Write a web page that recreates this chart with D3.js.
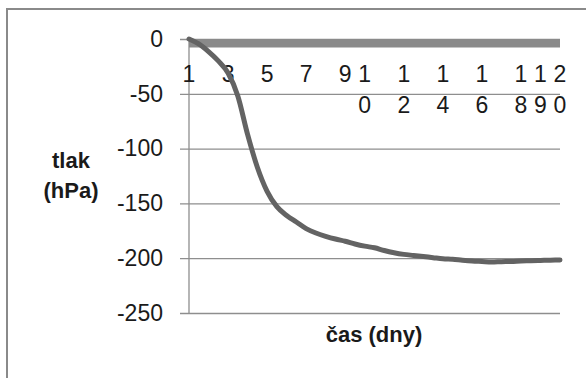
<!DOCTYPE html>
<html>
<head>
<meta charset="utf-8">
<script src="https://cdn.jsdelivr.net/npm/d3@7"></script>
<style>
  html, body { margin: 0; padding: 0; background: #fff; }
  svg { display: block; }
  text { font-family: "Liberation Sans", Arial, sans-serif; fill: #1a1a1a; }
</style>
</head>
<body>
<svg id="chart" width="586" height="378"></svg>
<script>
// Pressure measured over time (days), sampled every half day
const days = [1, 1.5, 2, 2.5, 3, 3.5, 4, 4.5, 5, 5.5, 6, 6.5, 7, 7.5, 8, 8.5, 9, 9.5, 10, 10.5,
              11, 11.5, 12, 12.5, 13, 13.5, 14, 14.5, 15, 15.5, 16, 16.5, 17, 17.5, 18, 18.5, 19, 19.5, 20];
const pressure = [0, -4.5, -11.5, -20, -31, -52, -87, -117, -139, -153, -161, -167, -173, -177, -180, -182.5,
                  -184.5, -187, -189, -190.5, -193, -195, -196.5, -197.5, -198.5, -199.5, -200.5, -201,
                  -201.8, -202.5, -203, -203.5, -203.2, -203, -202.6, -202.3, -202, -201.8, -201.6];
const xTicks = [1, 3, 5, 7, 9, 10, 12, 14, 16, 18, 19, 20];
const yTicks = [0, -50, -100, -150, -200, -250];
const yTitle = ["tlak", "(hPa)"];
const xTitle = "čas (dny)";

const svg = d3.select("#chart");
const grid = "#8e8e8e";

// chart frame
svg.append("rect")
  .attr("x", 7).attr("y", 9).attr("width", 620).attr("height", 420)
  .attr("fill", "none").attr("stroke", "#8a8a8a").attr("stroke-width", 2);

const x = d3.scaleLinear().domain([1, 20]).range([189, 560]);
const y = d3.scaleLinear().domain([-250, 0]).range([313, 39]);

// horizontal gridlines with outside tick marks
const yAxis = d3.axisLeft(y).tickValues(yTicks)
  .tickSize(-(x(20) - x(1))).tickSizeOuter(0).tickPadding(26);
const gy = svg.append("g").attr("transform", `translate(${x(1)},0)`).call(yAxis);
gy.select(".domain").remove();
gy.selectAll(".tick line").attr("stroke", grid).attr("stroke-width", 1.3).attr("x1", -9);
gy.selectAll(".tick text")
  .style("font-size", "23px").attr("fill", "#1a1a1a")
  .text(d => d === 0 ? "0" : "-" + Math.abs(d));

// vertical axis line
svg.append("line")
  .attr("x1", x(1)).attr("x2", x(1)).attr("y1", y(0)).attr("y2", y(-250))
  .attr("stroke", grid).attr("stroke-width", 1.3);

// heavy horizontal axis line just under zero
svg.append("rect")
  .attr("x", x(1)).attr("y", y(0)).attr("width", x(20) - x(1)).attr("height", 8.5)
  .attr("fill", "#8a8a8a");

// category labels, multi-digit numbers stacked one digit per line
const gx = svg.append("g");
xTicks.forEach(t => {
  const txt = gx.append("text")
    .attr("x", x(t)).attr("y", 82)
    .attr("text-anchor", "middle")
    .style("font-size", "23px");
  String(t).split("").forEach((ch, i) => {
    txt.append("tspan").attr("x", x(t)).attr("dy", i === 0 ? 0 : 31).text(ch);
  });
});

// pressure curve
const line = d3.line()
  .x((d, i) => x(days[i]))
  .y(d => y(d))
  .curve(d3.curveMonotoneX);
svg.append("path")
  .datum(pressure)
  .attr("d", line)
  .attr("fill", "none")
  .attr("stroke", "#636363")
  .attr("stroke-width", 5)
  .attr("stroke-linejoin", "round")
  .attr("stroke-linecap", "round");

// axis titles
const yt = svg.append("text")
  .attr("x", 71).attr("y", 168)
  .attr("text-anchor", "middle")
  .style("font-size", "22px").style("font-weight", "bold");
yTitle.forEach((s, i) => yt.append("tspan").attr("x", 71).attr("dy", i ? 30 : 0).text(s));

svg.append("text")
  .attr("x", 374).attr("y", 342)
  .attr("text-anchor", "middle")
  .style("font-size", "22px").style("font-weight", "bold")
  .text(xTitle);
</script>
</body>
</html>
